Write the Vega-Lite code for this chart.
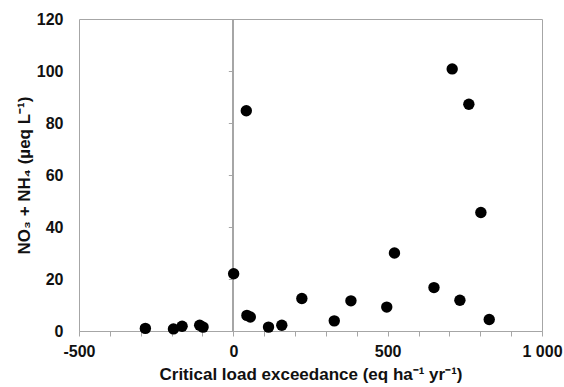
{
  "$schema": "https://vega.github.io/schema/vega-lite/v6.json",
  "width": 463,
  "height": 312,
  "autosize": {"type": "none"},
  "padding": {"left": 79, "top": 19, "right": 22, "bottom": 56},
  "background": "white",
  "config": {
    "view": {"stroke": "#a6a6a6", "strokeWidth": 1},
    "font": "Liberation Sans",
    "axis": {
      "labelFont": "Liberation Sans",
      "labelFontWeight": "bold",
      "labelFontSize": 16,
      "labelColor": "#111111",
      "titleFont": "Liberation Sans",
      "titleFontWeight": "bold",
      "titleFontSize": 17,
      "titleColor": "#111111",
      "grid": false,
      "domainColor": "#a6a6a6",
      "tickColor": "#a6a6a6"
    },
    "axisX": {
      "tickSize": 5,
      "labelPadding": 7,
      "labelFlush": false,
      "labelOverlap": false,
      "titlePadding": 7
    }
  },
  "data": {
    "values": [
      {"x": -285, "y": 1.0},
      {"x": -194, "y": 0.8},
      {"x": -166, "y": 1.8},
      {"x": -109, "y": 2.2},
      {"x": -98, "y": 1.5},
      {"x": 1, "y": 22.0},
      {"x": 42, "y": 84.7},
      {"x": 44, "y": 6.0},
      {"x": 55, "y": 5.4},
      {"x": 114, "y": 1.5},
      {"x": 157, "y": 2.2},
      {"x": 222, "y": 12.5},
      {"x": 327, "y": 3.9},
      {"x": 381, "y": 11.6},
      {"x": 497, "y": 9.2},
      {"x": 522, "y": 30.0},
      {"x": 650, "y": 16.7},
      {"x": 709, "y": 100.8},
      {"x": 734, "y": 11.8},
      {"x": 763, "y": 87.2},
      {"x": 802, "y": 45.6},
      {"x": 829, "y": 4.4}
    ]
  },
  "resolve": {"axis": {"y": "independent"}},
  "layer": [
    {
      "mark": {"type": "rule", "color": "#a6a6a6", "strokeWidth": 1},
      "encoding": {
        "x": {"datum": 0, "type": "quantitative", "scale": {"domain": [-500, 1000], "nice": false},
          "axis": {
            "title": "Critical load exceedance (eq ha⁻¹ yr⁻¹)",
            "values": [-500, -400, -300, -200, -100, 0, 100, 200, 300, 400, 500, 600, 700, 800, 900, 1000],
            "labelExpr": "datum.value == -500 ? '-500' : datum.value == 0 ? '0' : datum.value == 500 ? '500' : datum.value == 1000 ? '1 000' : ''",
            "tickSize": 5, "labelPadding": 7, "labelFlush": false, "labelOverlap": false, "titlePadding": 7
          }},
        "y": {"datum": 0, "type": "quantitative", "scale": {"domain": [0, 120], "nice": false},
          "axis": {"orient": "left", "offset": -154.33, "labels": false, "domain": false, "ticks": true, "tickSize": 5, "values": [20, 40, 60, 80, 100, 120], "title": null}},
        "y2": {"datum": 120}
      }
    },
    {
      "mark": {"type": "point", "filled": true, "color": "black", "opacity": 1, "size": 130, "shape": "circle"},
      "encoding": {
        "x": {
          "field": "x", "type": "quantitative",
          "scale": {"domain": [-500, 1000], "nice": false},
          "axis": {
            "title": "Critical load exceedance (eq ha⁻¹ yr⁻¹)",
            "values": [-500, -400, -300, -200, -100, 0, 100, 200, 300, 400, 500, 600, 700, 800, 900, 1000],
            "labelExpr": "datum.value == -500 ? '-500' : datum.value == 0 ? '0' : datum.value == 500 ? '500' : datum.value == 1000 ? '1 000' : ''",
            "tickSize": 5, "labelPadding": 7, "labelFlush": false, "labelOverlap": false, "titlePadding": 7
          }
        },
        "y": {
          "field": "y", "type": "quantitative",
          "scale": {"domain": [0, 120], "nice": false},
          "axis": {
            "orient": "left",
            "title": "NO₃ + NH₄ (µeq L⁻¹)",
            "values": [0, 20, 40, 60, 80, 100, 120],
            "ticks": false,
            "domain": false,
            "labelPadding": 16,
            "titlePadding": 3
          }
        }
      }
    }
  ]
}
